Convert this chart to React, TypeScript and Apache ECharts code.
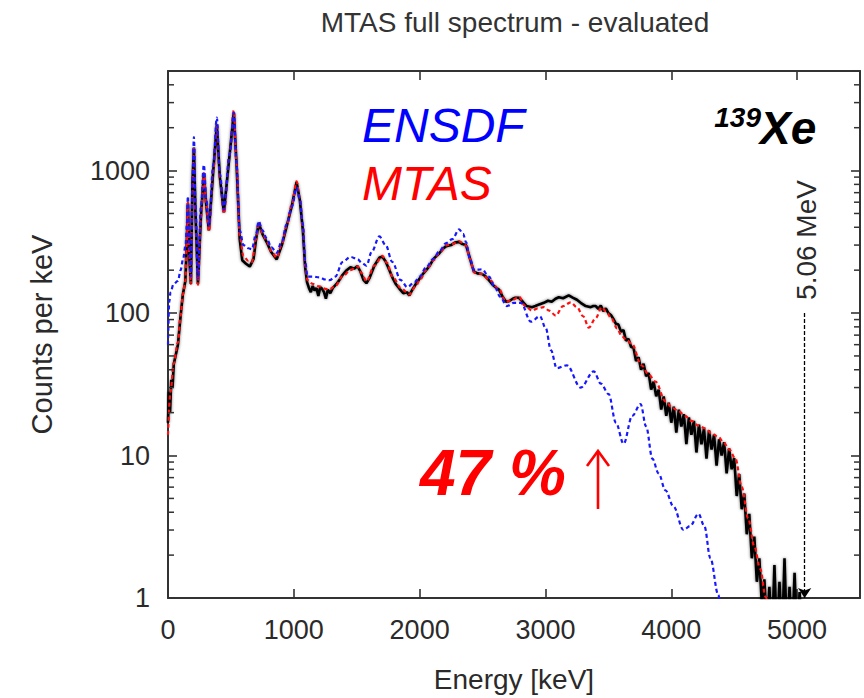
import { useEffect, useRef } from "react";
import * as echarts from "echarts";

// ---- text & axes -------------------------------------------------------
const FONT = "'Liberation Sans', Arial, Helvetica, sans-serif";
const TITLE = "MTAS full spectrum - evaluated";
const X_AXIS_NAME = "Energy [keV]";
const Y_AXIS_NAME = "Counts per keV";
const X_MIN = 0;
const X_MAX = 5500;
const X_STEP = 1000;
const Y_MIN = 1;
const Y_MAX = 5000;
const Y_MINOR_TICKS = [
  2, 3, 4, 5, 6, 7, 8, 9, 20, 30, 40, 50, 60, 70, 80, 90, 200, 300, 400, 500,
  600, 700, 800, 900, 2000, 3000, 4000,
];
const Q_VALUE_MEV = 5.06; // beta-decay Q value marker
const Q_ARROW_TOP = 100; // counts level where the marker starts
const ISOTOPE_MASS = "139";
const ISOTOPE_SYMBOL = "Xe";
const INCREASE_LABEL = "47 %";

// ---- ENSDF-based spectrum (keV, counts/keV) ------------------------------
const ensdfSpectrum: [number, number][] = [
  [0, 60], [10, 120], [20, 140], [45, 160], [79, 168], [100, 200], [120, 240],
  [140, 300], [150, 420], [158, 660], [168, 320], [182, 180], [194, 850],
  [206, 1720], [218, 600], [238, 175], [262, 560], [285, 1100], [305, 620],
  [325, 410], [360, 1100], [388, 2350], [412, 950], [444, 530], [490, 1300],
  [523, 2550], [545, 1100], [570, 380], [600, 300], [640, 285], [666, 280],
  [700, 360], [721, 440], [750, 380], [784, 335], [820, 290], [864, 265],
  [905, 320], [943, 420], [985, 560], [1022, 760], [1048, 620], [1072, 420],
  [1090, 230], [1109, 180], [1150, 180], [1204, 178], [1250, 172], [1284, 170],
  [1330, 180], [1387, 228], [1450, 248], [1506, 239], [1540, 225], [1577, 215],
  [1620, 270], [1680, 345], [1730, 300], [1783, 228], [1850, 170], [1902, 152],
  [1960, 165], [2000, 180], [2052, 210], [2110, 240], [2155, 270], [2211, 310],
  [2260, 330], [2314, 387], [2345, 360], [2369, 315], [2400, 240], [2433, 200],
  [2496, 203], [2551, 180], [2600, 150], [2640, 130], [2694, 112], [2750, 118],
  [2805, 118], [2884, 87], [2956, 95], [3003, 78], [3043, 55], [3090, 41],
  [3170, 43], [3280, 30], [3384, 39], [3440, 32], [3502, 27], [3560, 17],
  [3621, 12.1], [3690, 19], [3756, 23], [3800, 16], [3850, 9.5], [3899, 7.5],
  [3954, 5.7], [4017, 4.4], [4097, 3.0], [4150, 3.2], [4216, 3.9], [4263, 3.2],
  [4311, 1.9], [4374, 1.05], [4395, 0.8],
];

// ---- MTAS evaluated spectrum ---------------------------------------------
const mtasFit: [number, number][] = [
  [0, 14], [20, 28], [45, 44], [79, 62], [100, 95], [118, 135], [138, 168],
  [150, 320], [158, 600], [168, 260], [182, 160], [194, 700], [206, 1460],
  [218, 500], [238, 158], [262, 470], [285, 960], [305, 560], [325, 375],
  [360, 1000], [388, 2100], [412, 900], [444, 500], [490, 1300], [523, 2650],
  [545, 1100], [570, 350], [600, 250], [640, 232], [666, 228], [700, 330],
  [721, 435], [750, 365], [784, 320], [820, 272], [864, 245], [905, 305],
  [943, 410], [985, 580], [1022, 840], [1048, 640], [1072, 400], [1090, 215],
  [1109, 170], [1150, 160], [1204, 154], [1250, 148], [1284, 147], [1330, 155],
  [1387, 181], [1450, 200], [1506, 213], [1540, 190], [1577, 167], [1640, 215],
  [1704, 252], [1740, 225], [1783, 181], [1850, 150], [1918, 135], [1970, 155],
  [2000, 170], [2052, 200], [2110, 235], [2155, 262], [2211, 298], [2260, 305],
  [2314, 318], [2369, 298], [2400, 240], [2433, 193], [2496, 188], [2551, 172],
  [2631, 147], [2686, 120], [2740, 124], [2789, 130], [2840, 112], [2892, 104],
  [2940, 108], [2987, 110], [3030, 104], [3082, 96], [3140, 112], [3201, 119],
  [3250, 110], [3300, 95], [3344, 79], [3399, 92], [3447, 110], [3490, 100],
  [3526, 91], [3570, 78], [3605, 69], [3650, 64], [3685, 61], [3764, 43],
  [3820, 37], [3875, 33], [3954, 24], [4010, 21.6], [4057, 20.5], [4110, 19],
  [4160, 17.5], [4216, 16.2], [4271, 15.5], [4320, 14.3], [4374, 13.5],
  [4420, 12.2], [4461, 11], [4510, 9.5], [4560, 6], [4612, 3.6], [4660, 2.3],
  [4707, 1.6], [4750, 1.02], [4775, 0.85],
];

// ---- MTAS measured spectrum: low-energy part ------------------------------
const mtasMeasuredLow: [number, number][] = [
  [0, 17], [8, 28], [16, 20], [26, 34], [36, 30], [46, 44], [60, 50], [79, 60],
  [100, 95], [118, 135], [138, 168], [150, 330], [158, 590], [168, 260],
  [182, 160], [194, 800], [206, 1450], [218, 520], [238, 160], [262, 480],
  [285, 950], [305, 560], [325, 380], [360, 1000], [388, 2100], [412, 900],
  [444, 510], [490, 1300], [523, 2550], [545, 1100], [570, 330], [590, 235],
  [620, 222], [650, 212], [680, 240], [700, 330], [721, 430], [750, 360],
  [784, 315], [820, 268], [864, 238], [905, 300], [943, 405], [985, 570],
  [1022, 830], [1048, 620], [1072, 380], [1090, 210], [1105, 165], [1120, 150],
  [1135, 140], [1150, 155], [1165, 144], [1180, 150], [1195, 132], [1210, 152],
  [1225, 148], [1240, 140], [1255, 126], [1270, 146], [1290, 138], [1310, 150],
  [1340, 160], [1370, 175], [1387, 185], [1420, 200], [1450, 210], [1480, 205],
  [1506, 214], [1530, 195], [1555, 170], [1577, 162], [1600, 175], [1640, 215],
  [1680, 245], [1704, 248], [1730, 230], [1760, 200], [1783, 178], [1810, 160],
  [1840, 148], [1870, 138], [1900, 140], [1918, 133], [1940, 145], [1970, 160],
  [2000, 175], [2030, 190], [2052, 200], [2080, 215], [2110, 240], [2155, 262],
  [2190, 285], [2211, 295], [2250, 300], [2280, 312], [2314, 316], [2340, 305],
  [2369, 300], [2395, 250], [2420, 210], [2433, 195], [2460, 190], [2496, 188],
  [2520, 182], [2551, 170], [2580, 158], [2610, 150], [2631, 146], [2660, 130],
  [2686, 120], [2710, 121], [2740, 126], [2760, 128], [2789, 128], [2820, 120],
  [2850, 112], [2892, 110], [2920, 112], [2950, 115], [2987, 118], [3020, 122],
  [3050, 120], [3080, 126], [3106, 129], [3140, 127], [3185, 133], [3220, 128],
  [3250, 124], [3280, 118], [3320, 112], [3360, 110], [3380, 112],
];

// ---- MTAS measured spectrum: high-energy tail, 20 keV bins ----------------
const TAIL_START_KEV = 3400;
const TAIL_BIN_KEV = 20;
const mtasMeasuredTail: number[] = [
  112, 107, 113, 103, 108, 100, 97, 91, 84, 83,
  74, 76, 64, 66, 58, 57, 46, 49, 40, 44,
  36, 38, 29, 33, 26, 29, 21, 26, 19, 23.5,
  17, 22, 14.5, 21, 16, 19.5, 12, 18.5, 14, 17.5,
  10.5, 16.5, 12, 15.5, 9.5, 15, 11, 14, 8.5, 13,
  10, 12.4, 7.5, 11.2, 8, 9.6, 5.2, 7.4, 4.2, 5.4,
  2.8, 3.9, 1.9, 2.7, 1.3, 1.9, 0.9, 1.35, 0.6, 1.2,
  0.5, 1.7, 0.5, 1.3, 0.5, 1.9, 0.5, 1.2, 0.5, 1.5,
  0.5, 1.1, 0.5,
];

const mtasMeasured: [number, number][] = [
  ...mtasMeasuredLow,
  ...mtasMeasuredTail.map((c, i): [number, number] => [TAIL_START_KEV + i * TAIL_BIN_KEV, c]),
];

const FRAME = "#333333";
const TEXT = "#2a2a2a";

export default function App() {
  const ref = useRef<HTMLDivElement>(null);

  useEffect(() => {
    if (!ref.current) return;
    const chart = echarts.init(ref.current, undefined, { renderer: "svg" });

    const axisLine = { show: true, onZero: false, lineStyle: { color: FRAME, width: 2 } };
    const majorTick = { show: true, inside: true, length: 9, lineStyle: { color: FRAME, width: 1.6 } };
    const qKeV = Q_VALUE_MEV * 1000;

    chart.setOption({
      animation: false,
      backgroundColor: "#ffffff",
      grid: { left: 168, right: 4, top: 71, bottom: 98, containLabel: false },
      xAxis: [
        {
          type: "value",
          position: "bottom",
          min: X_MIN,
          max: X_MAX,
          interval: X_STEP,
          axisLine,
          axisTick: majorTick,
          splitLine: { show: false },
          axisLabel: {
            fontFamily: FONT,
            fontSize: 27,
            color: TEXT,
            margin: 18,
            showMaxLabel: false,
            formatter: (v: number) => String(v),
          },
          name: X_AXIS_NAME,
          nameLocation: "middle",
          nameGap: 67,
          nameTextStyle: { fontFamily: FONT, fontSize: 28, color: TEXT },
        },
        {
          type: "value",
          position: "top",
          min: X_MIN,
          max: X_MAX,
          interval: X_STEP,
          axisLine,
          axisTick: majorTick,
          splitLine: { show: false },
          axisLabel: { show: false },
        },
      ],
      yAxis: [
        {
          type: "log",
          logBase: 10,
          position: "left",
          min: Y_MIN,
          max: Y_MAX,
          axisLine,
          axisTick: majorTick,
          splitLine: { show: false },
          axisLabel: {
            fontFamily: FONT,
            fontSize: 27,
            color: TEXT,
            margin: 18,
            showMaxLabel: false,
            formatter: (v: number) => String(Math.round(v)),
          },
          name: Y_AXIS_NAME,
          nameLocation: "middle",
          nameRotate: 90,
          nameGap: 112,
          nameTextStyle: { fontFamily: FONT, fontSize: 29, color: TEXT },
        },
        {
          type: "log",
          logBase: 10,
          position: "right",
          min: Y_MIN,
          max: Y_MAX,
          axisLine,
          axisTick: majorTick,
          splitLine: { show: false },
          axisLabel: { show: false },
        },
      ],
      series: [
        {
          name: "log minor ticks",
          type: "custom",
          xAxisIndex: 0,
          yAxisIndex: 0,
          silent: true,
          clip: false,
          z: 10,
          data: Y_MINOR_TICKS.map((v) => [X_MAX, v]),
          renderItem: (_params: any, api: any) => {
            const v = api.value(1);
            const l = api.coord([X_MIN, v]);
            const r = api.coord([X_MAX, v]);
            const style = { stroke: FRAME, lineWidth: 1.5 };
            return {
              type: "group",
              children: [
                { type: "line", shape: { x1: l[0], y1: l[1], x2: l[0] + 6, y2: l[1] }, style },
                { type: "line", shape: { x1: r[0] - 6, y1: r[1], x2: r[0], y2: r[1] }, style },
              ],
            };
          },
        },
        {
          name: "MTAS data",
          type: "line",
          data: mtasMeasured,
          symbol: "none",
          lineStyle: {
            color: "#000000",
            width: 2.6,
            shadowBlur: 3,
            shadowColor: "rgba(0,0,0,0.55)",
          },
          z: 2,
          markLine: {
            silent: true,
            symbol: ["none", "arrow"],
            symbolSize: 10,
            lineStyle: { color: "#000000", type: [4, 2], width: 1.3, shadowBlur: 0 },
            label: { show: false },
            data: [[{ coord: [qKeV, Q_ARROW_TOP] }, { coord: [qKeV, Y_MIN] }]],
          },
        },
        {
          name: "MTAS",
          type: "line",
          data: mtasFit,
          symbol: "none",
          smooth: 0.35,
          smoothMonotone: "x",
          lineStyle: { color: "#ff1010", width: 2.2, type: [4, 3] },
          z: 3,
        },
        {
          name: "ENSDF",
          type: "line",
          data: ensdfSpectrum,
          symbol: "none",
          smooth: 0.35,
          smoothMonotone: "x",
          lineStyle: { color: "#1818ff", width: 2.2, type: [4, 3] },
          z: 4,
        },
      ],
      graphic: [
        {
          type: "text",
          x: 515,
          y: 22,
          style: {
            text: TITLE,
            fontFamily: FONT,
            fontSize: 28,
            fill: "#333333",
            align: "center",
            verticalAlign: "middle",
          },
        },
        {
          type: "text",
          x: 362,
          y: 125,
          style: {
            text: "ENSDF",
            fontFamily: FONT,
            fontSize: 48,
            fontStyle: "italic",
            fill: "#0000ff",
            align: "left",
            verticalAlign: "middle",
          },
        },
        {
          type: "text",
          x: 362,
          y: 183,
          style: {
            text: "MTAS",
            fontFamily: FONT,
            fontSize: 48,
            fontStyle: "italic",
            fill: "#ff0000",
            align: "left",
            verticalAlign: "middle",
          },
        },
        {
          type: "text",
          x: 761,
          y: 117,
          style: {
            text: ISOTOPE_MASS,
            fontFamily: FONT,
            fontSize: 28,
            fontStyle: "italic",
            fontWeight: "bold",
            fill: "#000000",
            align: "right",
            verticalAlign: "middle",
          },
        },
        {
          type: "text",
          x: 760,
          y: 128,
          style: {
            text: ISOTOPE_SYMBOL,
            fontFamily: FONT,
            fontSize: 46,
            fontStyle: "italic",
            fontWeight: "bold",
            fill: "#000000",
            align: "left",
            verticalAlign: "middle",
          },
        },
        {
          type: "text",
          x: 806,
          y: 240,
          rotation: Math.PI / 2,
          style: {
            text: `${Q_VALUE_MEV.toFixed(2)} MeV`,
            fontFamily: FONT,
            fontSize: 28,
            fill: TEXT,
            align: "center",
            verticalAlign: "middle",
          },
        },
        {
          type: "text",
          x: 420,
          y: 473,
          style: {
            text: INCREASE_LABEL,
            fontFamily: FONT,
            fontSize: 64,
            fontStyle: "italic",
            fontWeight: "bold",
            fill: "#ff0000",
            align: "left",
            verticalAlign: "middle",
          },
        },
        {
          type: "group",
          children: [
            {
              type: "line",
              shape: { x1: 598, y1: 509, x2: 598, y2: 453 },
              style: { stroke: "#ff0000", lineWidth: 2.6 },
            },
            {
              type: "polyline",
              shape: { points: [[587, 466], [598, 451], [609, 466]] },
              style: { stroke: "#ff0000", lineWidth: 2.6, fill: "none" },
            },
          ],
        },
      ],
    });

    return () => chart.dispose();
  }, []);

  return (
    <div
      ref={ref}
      style={{ position: "absolute", left: 0, top: 0, width: 864, height: 698, background: "#fff" }}
    />
  );
}
